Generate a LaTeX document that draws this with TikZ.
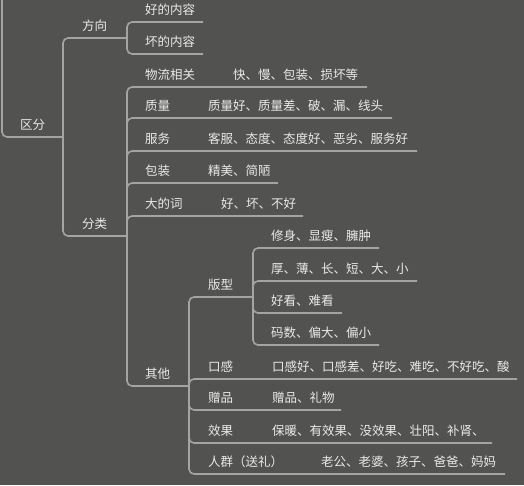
\documentclass[tikz,border=0pt]{standalone}
\usepackage{fontspec}
\setmainfont{Noto Sans CJK SC}
\definecolor{bg}{HTML}{525250}
\definecolor{ln}{HTML}{A4A4A0}
\definecolor{txt}{HTML}{EAEAE8}
\begin{document}
\begin{tikzpicture}[x=1pt,y=-1pt,
  lbl/.style={anchor=base west, inner sep=0pt, text=txt, font=\fontsize{12.5}{14}\selectfont},
  conn/.style={draw=ln, line width=1.6pt, rounded corners=5pt}]
\fill[bg] (0,0) rectangle (524,485);
\useasboundingbox (0,0) rectangle (524,485);
% coordinates (underline ends)
\coordinate (rootin) at (2,-3);
\coordinate (qf-e) at (63,137);
\coordinate (fx-e) at (127,38);
\coordinate (hd-e) at (203,22);
\coordinate (hu-e) at (203,54);
\coordinate (fl-e) at (127,236);
\coordinate (wl-e) at (367,87);
\coordinate (zl-e) at (392,118);
\coordinate (fw-e) at (417,151);
\coordinate (bz-e) at (278,183);
\coordinate (dc-e) at (303,216);
\coordinate (qt-e) at (189,386);
\coordinate (bx-e) at (253,297);
\coordinate (b1-e) at (379,248);
\coordinate (b2-e) at (417,281);
\coordinate (b3-e) at (342,313);
\coordinate (b4-e) at (379,345);
\coordinate (kg-e) at (517,379);
\coordinate (zp-e) at (341,410);
\coordinate (xg-e) at (492,443);
\coordinate (rq-e) at (505,474);
% connectors
\draw[conn] (rootin) |- (qf-e);
\draw[conn] (qf-e) |- (fx-e);
\draw[conn] (qf-e) |- (fl-e);
\draw[conn] (fx-e) |- (hd-e);
\draw[conn] (fx-e) |- (hu-e);
\draw[conn] (fl-e) |- (wl-e);
\draw[conn] (fl-e) |- (zl-e);
\draw[conn] (fl-e) |- (fw-e);
\draw[conn] (fl-e) |- (bz-e);
\draw[conn] (fl-e) |- (dc-e);
\draw[conn] (fl-e) |- (qt-e);
\draw[conn] (qt-e) |- (bx-e);
\draw[conn] (qt-e) |- (kg-e);
\draw[conn] (qt-e) |- (zp-e);
\draw[conn] (qt-e) |- (xg-e);
\draw[conn] (qt-e) |- (rq-e);
\draw[conn] (bx-e) |- (b1-e);
\draw[conn] (bx-e) |- (b2-e);
\draw[conn] (bx-e) |- (b3-e);
\draw[conn] (bx-e) |- (b4-e);
% labels
\node[lbl] (qf) at (20,129.7) {区分};
\node[lbl] (fx) at (82,30.7) {方向};
\node[lbl] (hd) at (145,14.7) {好的内容};
\node[lbl] (hu) at (145,46.7) {坏的内容};
\node[lbl] (fl) at (82,228.7) {分类};
\node[lbl] (wl) at (145,79.7) {物流相关};
\node[lbl] (wlv) at (233,79.7) {快、慢、包装、损坏等};
\node[lbl] (zl) at (145,110.7) {质量};
\node[lbl] (zlv) at (208,110.7) {质量好、质量差、破、漏、线头};
\node[lbl] (fw) at (145,143.7) {服务};
\node[lbl] (fwv) at (208,143.7) {客服、态度、态度好、恶劣、服务好};
\node[lbl] (bz) at (145,175.7) {包装};
\node[lbl] (bzv) at (208,175.7) {精美、简陋};
\node[lbl] (dc) at (145,208.7) {大的词};
\node[lbl] (dcv) at (221,208.7) {好、坏、不好};
\node[lbl] (qt) at (145,378.7) {其他};
\node[lbl] (bx) at (208,289.7) {版型};
\node[lbl] (b1) at (271,240.7) {修身、显瘦、臃肿};
\node[lbl] (b2) at (271,273.7) {厚、薄、长、短、大、小};
\node[lbl] (b3) at (271,305.7) {好看、难看};
\node[lbl] (b4) at (271,337.7) {码数、偏大、偏小};
\node[lbl] (kg) at (208,371.7) {口感};
\node[lbl] (kgv) at (272,371.7) {口感好、口感差、好吃、难吃、不好吃、酸};
\node[lbl] (zp) at (208,402.7) {赠品};
\node[lbl] (zpv) at (272,402.7) {赠品、礼物};
\node[lbl] (xg) at (208,435.7) {效果};
\node[lbl] (xgv) at (272,435.7) {保暖、有效果、没效果、壮阳、补肾、};
\node[lbl] (rq) at (208,466.7) {人群（送礼）};
\node[lbl] (rqv) at (321,466.7) {老公、老婆、孩子、爸爸、妈妈};
\end{tikzpicture}
\end{document}
